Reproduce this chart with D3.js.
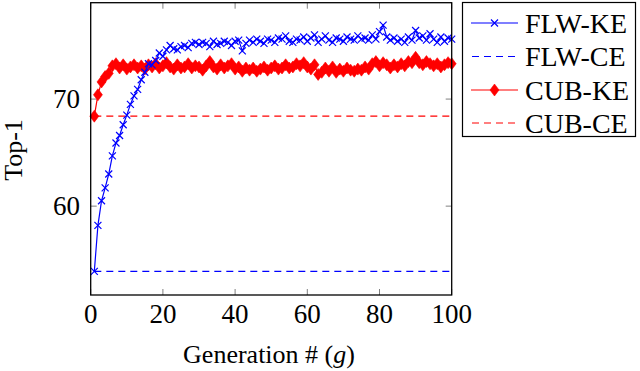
<!DOCTYPE html>
<html>
<head>
<meta charset="UTF-8">
<title>Top-1 vs generation</title>
<script src="https://cdn.jsdelivr.net/npm/d3@7"></script>
<style type="text/css">
	body{ margin:0; background:#fff; }
	text{ font-family: "Liberation Serif", "Times New Roman", Times, serif; font-size: 26px; }
</style>
</head>
<body>
<script>
// generations 1..100
var generations = d3.range(1, 101);

var flwKE = [53.9,58.2,60.5,61.7,63.0,64.7,65.9,66.6,67.6,68.5,
	69.5,70.3,70.9,71.8,72.5,73.3,73.2,73.6,74.3,74.0,
	74.6,75.0,74.7,74.6,74.9,75.0,74.8,75.2,75.3,75.1,
	75.3,75.2,74.9,75.4,75.1,75.2,75.4,75.3,75.0,75.4,
	75.5,74.5,75.2,75.5,75.3,75.6,75.4,75.2,75.6,75.5,
	75.3,75.7,75.6,75.9,75.4,75.3,75.6,75.5,75.8,75.4,
	75.7,76.0,75.3,75.6,75.9,75.5,75.3,75.7,75.6,75.4,
	75.8,75.6,75.5,75.9,75.6,75.7,75.5,76.0,75.6,76.3,
	76.9,75.8,75.5,75.7,75.4,75.6,75.3,75.8,75.5,76.4,
	75.7,75.9,75.5,76.1,75.6,75.3,75.8,75.4,75.7,75.6];

var cubKE = [68.4,70.4,71.6,72.1,72.4,73.1,73.3,72.9,73.2,72.8,
	73.0,73.2,72.9,73.1,72.8,73.2,73.0,73.3,72.9,73.1,
	73.4,73.0,72.8,73.2,72.9,73.0,73.3,72.9,73.1,73.0,
	72.7,73.1,73.5,73.0,72.8,73.2,72.9,73.1,73.3,72.8,
	73.0,72.6,72.9,72.7,72.9,72.6,72.8,73.0,72.7,72.9,
	73.1,72.8,72.9,73.2,72.9,73.0,73.3,73.1,73.4,73.0,
	72.8,73.2,72.3,72.5,72.9,72.6,73.0,72.5,72.8,72.6,
	72.9,72.7,72.6,72.8,72.7,73.0,72.8,73.3,73.5,73.1,
	73.4,73.2,72.9,73.2,73.0,73.3,73.1,73.5,73.4,73.9,
	73.4,73.2,73.5,73.3,73.1,73.3,73.0,73.2,73.4,73.3];

var flwCE = 53.9;
var cubCE = 68.4;

var xTicks = [0, 20, 40, 60, 80, 100];
var yTicks = [60, 70];
var legendNames = ["FLW-KE", "FLW-CE", "CUB-KE", "CUB-CE"];

var width = 640, height = 371;
var ff = "Liberation Serif";
var svg = d3.select("body").append("svg")
	.attr("width", width)
	.attr("height", height);

var x = d3.scaleLinear().domain([0, 100]).range([90.7, 451.7]);
var y = d3.scaleLinear().domain([51.7, 79]).range([295, 2.7]);

var blue = "#0000ff", red = "#ff0000";

// ticks, inward on all four sides
var tickCol = "#808080", tl = 6;
var tg = svg.append("g").attr("stroke", tickCol).attr("stroke-width", 1);
xTicks.forEach(function(t){
	tg.append("line").attr("x1", x(t)).attr("x2", x(t)).attr("y1", y.range()[0]).attr("y2", y.range()[0] - tl);
	tg.append("line").attr("x1", x(t)).attr("x2", x(t)).attr("y1", y.range()[1]).attr("y2", y.range()[1] + tl);
});
yTicks.forEach(function(t){
	tg.append("line").attr("x1", x.range()[0]).attr("x2", x.range()[0] + tl).attr("y1", y(t)).attr("y2", y(t));
	tg.append("line").attr("x1", x.range()[1]).attr("x2", x.range()[1] - tl).attr("y1", y(t)).attr("y2", y(t));
});

// tick labels
svg.selectAll(".xl").data(xTicks).enter().append("text")
	.attr("x", function(d){ return x(d); })
	.attr("y", 323)
	.attr("text-anchor", "middle")
	.attr("font-family", ff)
	.style("font-size", "27px")
	.text(function(d){ return d; });
svg.selectAll(".yl").data(yTicks).enter().append("text")
	.attr("x", 80)
	.attr("y", function(d){ return y(d) + 9; })
	.attr("text-anchor", "end")
	.attr("font-family", ff)
	.style("font-size", "27px")
	.text(function(d){ return d; });

// axis titles
var xt = svg.append("text")
	.attr("x", 269).attr("y", 363)
	.attr("text-anchor", "middle")
	.attr("font-family", ff);
xt.append("tspan").text("Generation # (");
xt.append("tspan").attr("font-style", "italic").text("g");
xt.append("tspan").text(")");

svg.append("text")
	.attr("transform", "translate(22,150) rotate(-90)")
	.attr("text-anchor", "middle")
	.attr("font-family", ff)
	.text("Top-1");

var plot = svg.append("g");

// constant baselines
plot.append("line")
	.attr("x1", x(1)).attr("x2", x(100))
	.attr("y1", y(flwCE)).attr("y2", y(flwCE))
	.attr("stroke", blue).attr("stroke-width", 1.2).attr("stroke-dasharray", "7,5");
plot.append("line")
	.attr("x1", x(1)).attr("x2", x(100))
	.attr("y1", y(cubCE)).attr("y2", y(cubCE))
	.attr("stroke", red).attr("stroke-width", 1.2).attr("stroke-dasharray", "7,5");

var line = d3.line()
	.x(function(d, i){ return x(generations[i]); })
	.y(function(d){ return y(d); });

function diamond(cx, cy){
	return "M" + cx + "," + (cy - 6) + "L" + (cx + 4.5) + "," + cy + "L" + cx + "," + (cy + 6) + "L" + (cx - 4.5) + "," + cy + "Z";
}
function cross(cx, cy){
	var r = 3.5;
	return "M" + (cx - r) + "," + (cy - r) + "L" + (cx + r) + "," + (cy + r) + "M" + (cx - r) + "," + (cy + r) + "L" + (cx + r) + "," + (cy - r);
}

// CUB-KE
plot.append("path").datum(cubKE)
	.attr("d", line).attr("fill", "none").attr("stroke", red).attr("stroke-width", 1.2);
plot.selectAll(".dm").data(cubKE).enter().append("path")
	.attr("d", function(d, i){ return diamond(x(generations[i]), y(d)); })
	.attr("fill", red).attr("stroke", red).attr("stroke-width", 0.6);

// FLW-KE
plot.append("path").datum(flwKE)
	.attr("d", line).attr("fill", "none").attr("stroke", blue).attr("stroke-width", 1.2);
plot.selectAll(".cr").data(flwKE).enter().append("path")
	.attr("d", function(d, i){ return cross(x(generations[i]), y(d)); })
	.attr("fill", "none").attr("stroke", blue).attr("stroke-width", 1.2);

// plot frame
svg.append("rect")
	.attr("x", x.range()[0]).attr("y", y.range()[1])
	.attr("width", x.range()[1] - x.range()[0])
	.attr("height", y.range()[0] - y.range()[1])
	.attr("fill", "none").attr("stroke", "#000").attr("stroke-width", 1.3);

// legend
var lg = svg.append("g");
lg.append("rect")
	.attr("x", 462.5).attr("y", 2.5).attr("width", 173).attr("height", 134)
	.attr("fill", "#fff").attr("stroke", "#000").attr("stroke-width", 1.2);
var ly = [23, 56.5, 90, 123];
var lstyle = [
	{col: blue, dash: null, mark: "x"},
	{col: blue, dash: "7,5", mark: null},
	{col: red, dash: null, mark: "d"},
	{col: red, dash: "7,5", mark: null}
];
legendNames.forEach(function(n, i){
	var s = lstyle[i];
	var l = lg.append("line")
		.attr("x1", 471).attr("x2", 518)
		.attr("y1", ly[i]).attr("y2", ly[i])
		.attr("stroke", s.col).attr("stroke-width", 1.2);
	if(s.dash) l.attr("stroke-dasharray", s.dash).attr("x1", 472);
	if(s.mark == "x"){
		lg.append("path").attr("d", cross(494.5, ly[i])).attr("stroke", s.col).attr("stroke-width", 1.2);
	}
	if(s.mark == "d"){
		lg.append("path").attr("d", diamond(494.5, ly[i])).attr("fill", s.col).attr("stroke", s.col).attr("stroke-width", 0.6);
	}
	lg.append("text")
		.attr("x", 525).attr("y", ly[i] + 9.5)
		.attr("font-family", ff)
		.style("font-size", "28px")
		.text(n);
});
</script>
</body>
</html>
